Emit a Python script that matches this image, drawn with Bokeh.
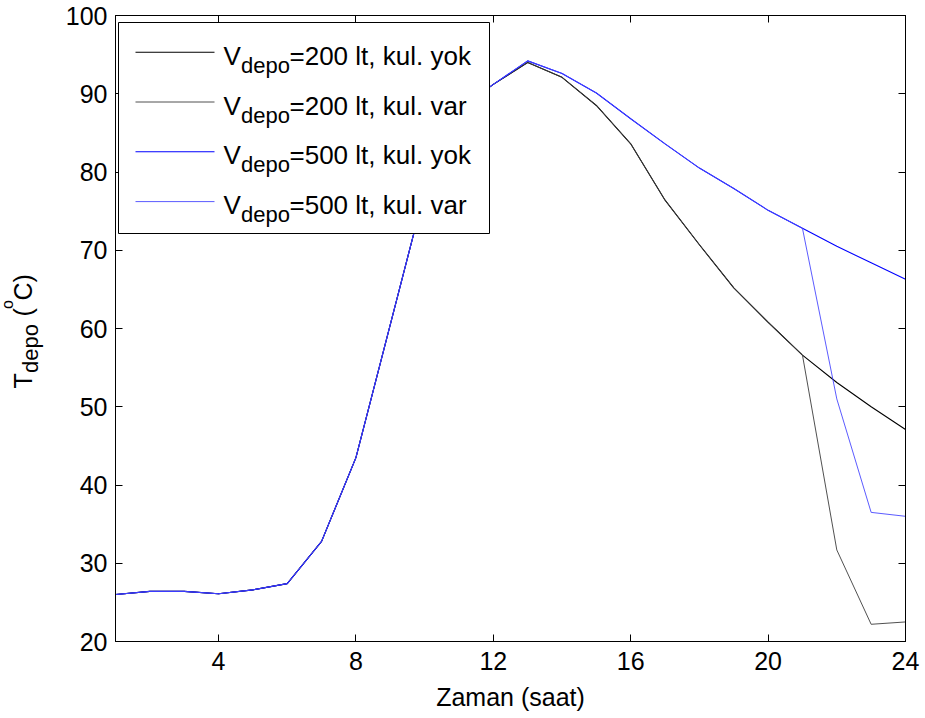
from bokeh.plotting import figure
from bokeh.layouts import row
from bokeh.models import Range1d, FixedTicker, LinearAxis, Label, BoxAnnotation, Arrow, ColumnDataSource
from bokeh.embed import file_html
from bokeh.resources import INLINE

# ---------------- data ----------------
hours = list(range(1, 25))
t200_yok = [26.0, 26.4, 26.4, 26.1, 26.6, 27.4, 32.8, 43.5, 60.5, 77.5, 88.0, 91.2,
            94.0, 92.1, 88.5, 83.6, 76.4, 70.7, 65.2, 60.8, 56.6, 53.1, 50.0, 47.1]
t200_var = [26.0, 26.4, 26.4, 26.1, 26.6, 27.4, 32.8, 43.5, 60.5, 77.5, 88.0, 91.2,
            94.0, 92.1, 88.5, 83.6, 76.4, 70.7, 65.2, 60.8, 56.6, 31.7, 22.2, 22.5]
t500_yok = [26.0, 26.4, 26.4, 26.1, 26.6, 27.4, 32.8, 43.5, 60.5, 77.5, 88.0, 91.2,
            94.2, 92.6, 90.1, 86.8, 83.6, 80.5, 77.9, 75.1, 72.8, 70.5, 68.4, 66.3]
t500_var = [26.0, 26.4, 26.4, 26.1, 26.6, 27.4, 32.8, 43.5, 60.5, 77.5, 88.0, 91.2,
            94.2, 92.6, 90.1, 86.8, 83.6, 80.5, 77.9, 75.1, 72.8, 51.0, 36.5, 36.0]
x_ticks = [4, 8, 12, 16, 20, 24]
y_ticks = [20, 30, 40, 50, 60, 70, 80, 90, 100]
legend_main = ["=200 lt, kul. yok", "=200 lt, kul. var", "=500 lt, kul. yok", "=500 lt, kul. var"]
legend_sym = "V"
legend_sub = "depo"
x_label = "Zaman (saat)"
y_label_parts = ["T", "depo", "(", "o", "C)"]

FONT = "Liberation Sans"
FS = "25px"
LFS = "26px"

series = [
    (t200_yok, "#000000", 1.1),
    (t200_var, "#3c3c3c", 0.9),
    (t500_yok, "#0000ff", 1.1),
    (t500_var, "#4848ff", 0.9),
]

FRAME_BOTTOM = 641
LEFT_W = 50
# ---------------- left strip holding the y-axis title ----------------
lp = figure(width=LEFT_W, height=718, output_backend="svg", toolbar_location=None,
            x_range=Range1d(0, LEFT_W), y_range=Range1d(0, 718),
            min_border=0, min_border_left=0, min_border_right=0,
            min_border_top=0, min_border_bottom=0)
lp.axis.visible = False
lp.grid.visible = False
lp.outline_line_color = None
lp.border_fill_color = "white"
lp.background_fill_color = "white"

ANG = 1.5707963267948966
DX = -11
# (x baseline, canvas-y start, size)
ylab_pos = [(33, 388, FS), (40.5, 372.5, "22px"), (33, 316, FS), (17.5, 308.5, "16px"), (33, 300, FS)]
for txt, (bx, sy, fs) in zip(y_label_parts, ylab_pos):
    lp.add_layout(Label(x=bx + DX, y=FRAME_BOTTOM - sy, x_units="screen", y_units="screen",
                        text=txt, angle=ANG,
                        text_font=FONT, text_font_size=fs, text_color="black",
                        text_baseline="alphabetic", text_align="left"))

# ---------------- main plot ----------------
p = figure(width=925 - LEFT_W, height=718, output_backend="svg", toolbar_location=None,
           x_range=Range1d(1, 24), y_range=Range1d(20, 100),
           min_border_left=115 - LEFT_W, min_border_right=20, min_border_top=15, min_border_bottom=77)
p.grid.visible = False
p.outline_line_color = "black"
p.background_fill_color = "white"
p.border_fill_color = "white"

for ax, ticks in ((p.xaxis[0], x_ticks), (p.yaxis[0], y_ticks)):
    ax.ticker = FixedTicker(ticks=ticks)
    ax.major_tick_in = 7
    ax.major_tick_out = 0
    ax.minor_tick_line_color = None
    ax.axis_line_color = "black"
    ax.major_tick_line_color = "black"
    ax.major_label_text_font = FONT
    ax.major_label_text_font_size = FS
    ax.major_label_text_color = "black"

p.xaxis.major_label_standoff = 10
p.yaxis.major_label_standoff = 8
p.xaxis.axis_label = x_label
p.xaxis.axis_label_text_font = FONT
p.xaxis.axis_label_text_font_size = FS
p.xaxis.axis_label_text_font_style = "normal"
p.xaxis.axis_label_text_color = "black"
p.xaxis.axis_label_standoff = 10

for loc, ticks in (("right", y_ticks), ("above", x_ticks)):
    ax = LinearAxis(ticker=FixedTicker(ticks=ticks), major_tick_in=7, major_tick_out=0,
                    minor_tick_line_color=None,
                    major_label_overrides={t: "" for t in ticks},
                    major_label_standoff=0, axis_line_color="black")
    p.add_layout(ax, loc)

for ys, color, lw in series:
    src = ColumnDataSource(dict(x=hours, y=ys))
    p.line("x", "y", source=src, line_color=color, line_width=lw)

# ------------- legend (screen units, relative to frame bottom-left) -------------
p.add_layout(BoxAnnotation(left=3, right=374, bottom=408, top=619,
                           left_units="screen", right_units="screen",
                           bottom_units="screen", top_units="screen",
                           fill_color="white", fill_alpha=1.0,
                           line_color="black", line_width=1, line_alpha=1.0))
for i, (ys, color, lw) in enumerate(series):
    yl = 589.3 - 49.8 * i
    p.add_layout(Arrow(x_start=20, y_start=yl, x_end=99, y_end=yl,
                       start_units="screen", end_units="screen", end=None, start=None,
                       line_color=color, line_width=lw))
    yb = FRAME_BOTTOM - (55.3 + 49.8 * i)
    p.add_layout(Label(x=108, y=yb, x_units="screen", y_units="screen", text=legend_sym,
                       text_font=FONT, text_font_size=LFS, text_color="black",
                       text_baseline="alphabetic", text_align="left"))
    p.add_layout(Label(x=125.5, y=yb - 9.4, x_units="screen", y_units="screen", text=legend_sub,
                       text_font=FONT, text_font_size="22px", text_color="black",
                       text_baseline="alphabetic", text_align="left"))
    p.add_layout(Label(x=174, y=yb, x_units="screen", y_units="screen", text=legend_main[i],
                       text_font=FONT, text_font_size=LFS, text_color="black",
                       text_baseline="alphabetic", text_align="left"))

layout = row(lp, p, spacing=0)
open("out.html", "w").write(file_html(layout, INLINE))
